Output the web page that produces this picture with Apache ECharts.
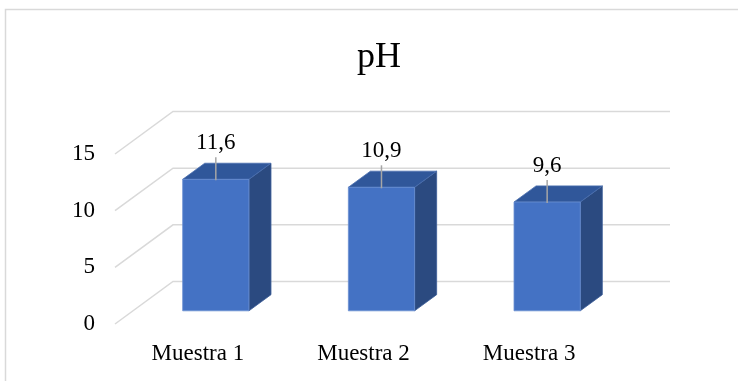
<!DOCTYPE html>
<html>
<head>
<meta charset="utf-8">
<script src="https://cdn.jsdelivr.net/npm/echarts@6/dist/echarts.min.js"></script>
<style>
  html, body { margin: 0; padding: 0; background: #fff; }
  #chart { width: 738px; height: 381px; }
</style>
</head>
<body>
<div id="chart"></div>
<script>
// pH per sample
const categories = ['Muestra 1', 'Muestra 2', 'Muestra 3'];
const phValues = [11.6, 10.9, 9.6];
const yTicks = [0, 5, 10, 15];

// Oblique projection of the depth axis (pixels from front plane to back wall)
const DEPTH_DX = 58;
const DEPTH_DY = -42.5;
const BAR_FRONT = 0.31;   // depth fraction where bar front faces sit
const BAR_DEPTH = 0.38;   // depth fraction occupied by each bar
const FONT = 'Liberation Serif';

const fmt = v => String(v).replace('.', ',');

const chart = echarts.init(document.getElementById('chart'), null, { renderer: 'canvas' });

// Gridline on the side wall running into the back wall
function renderGrid(params, api) {
  const cs = params.coordSys;
  const y = api.coord([0, api.value(1)])[1];
  return {
    type: 'polyline',
    silent: true,
    shape: {
      points: [
        [cs.x, y],
        [cs.x + DEPTH_DX, y + DEPTH_DY],
        [cs.x + cs.width + DEPTH_DX, y + DEPTH_DY]
      ]
    },
    style: { stroke: '#d9d9d9', lineWidth: 1.5, fill: null }
  };
}

// 3D column: front face, top face, right side, leader and value label
function renderBar(params, api) {
  const i = api.value(0);
  const v = api.value(1);
  const base = api.coord([i, 0]);
  const top = api.coord([i, v]);
  const band = api.size([1, 0])[0];
  const w = band * 0.4;
  const ox = BAR_FRONT * DEPTH_DX, oy = BAR_FRONT * DEPTH_DY;
  const dx = BAR_DEPTH * DEPTH_DX, dy = BAR_DEPTH * DEPTH_DY;
  const x0 = base[0] - w / 2 + ox;
  const x1 = x0 + w;
  const yb = base[1] + oy;
  const yt = top[1] + oy;
  const cx = (x0 + x1) / 2;
  return {
    type: 'group',
    children: [
      {
        type: 'polygon',
        shape: { points: [[x1, yt], [x1 + dx, yt + dy], [x1 + dx, yb + dy], [x1, yb]] },
        style: { fill: '#2b4a80', stroke: '#3b5d98', lineWidth: 0.8 }
      },
      {
        type: 'polygon',
        shape: { points: [[x0, yt], [x1, yt], [x1 + dx, yt + dy], [x0 + dx, yt + dy]] },
        style: { fill: '#30579a', stroke: '#4a6eae', lineWidth: 0.8 }
      },
      {
        type: 'rect',
        shape: { x: x0, y: yt, width: w, height: yb - yt },
        style: { fill: '#4472c4', stroke: '#6a8fd2', lineWidth: 0.8 }
      },
      {
        type: 'line',
        shape: { x1: cx, y1: yt - 22, x2: cx, y2: yt + 1 },
        style: { stroke: '#a6a6a6', lineWidth: 1.5 }
      },
      {
        type: 'text',
        style: {
          text: fmt(v),
          x: cx,
          y: yt - 36,
          align: 'center',
          verticalAlign: 'middle',
          fontSize: 23,
          fontFamily: FONT,
          fill: '#000'
        }
      }
    ]
  };
}

const option = {
  animation: false,
  backgroundColor: '#fff',
  title: {
    text: 'pH',
    left: 357,
    top: 40,
    padding: 0,
    textStyle: { fontSize: 36, fontWeight: 'normal', fontFamily: FONT, color: '#000' }
  },
  graphic: [
    {
      type: 'rect',
      z: -10,
      silent: true,
      shape: { x: 5.5, y: 9.5, width: 780, height: 420 },
      style: { fill: null, stroke: '#d9d9d9', lineWidth: 1.5 }
    }
  ],
  grid: { left: 115, right: 126, top: 154, bottom: 57, containLabel: false },
  xAxis: {
    type: 'category',
    data: categories,
    axisLine: { show: false },
    axisTick: { show: false },
    splitLine: { show: false },
    axisLabel: { margin: 18, fontSize: 23, fontFamily: FONT, color: '#000' }
  },
  yAxis: {
    type: 'value',
    min: 0,
    max: 15,
    interval: 5,
    axisLine: { show: false },
    axisTick: { show: false },
    splitLine: { show: false },
    axisLabel: { margin: 20, fontSize: 23, fontFamily: FONT, color: '#000' }
  },
  series: [
    {
      type: 'custom',
      name: 'grid',
      silent: true,
      z: 1,
      renderItem: renderGrid,
      data: yTicks.map(t => [0, t])
    },
    {
      type: 'custom',
      name: 'pH',
      z: 2,
      renderItem: renderBar,
      data: phValues.map((v, i) => [i, v])
    }
  ]
};

chart.setOption(option);
</script>
</body>
</html>
